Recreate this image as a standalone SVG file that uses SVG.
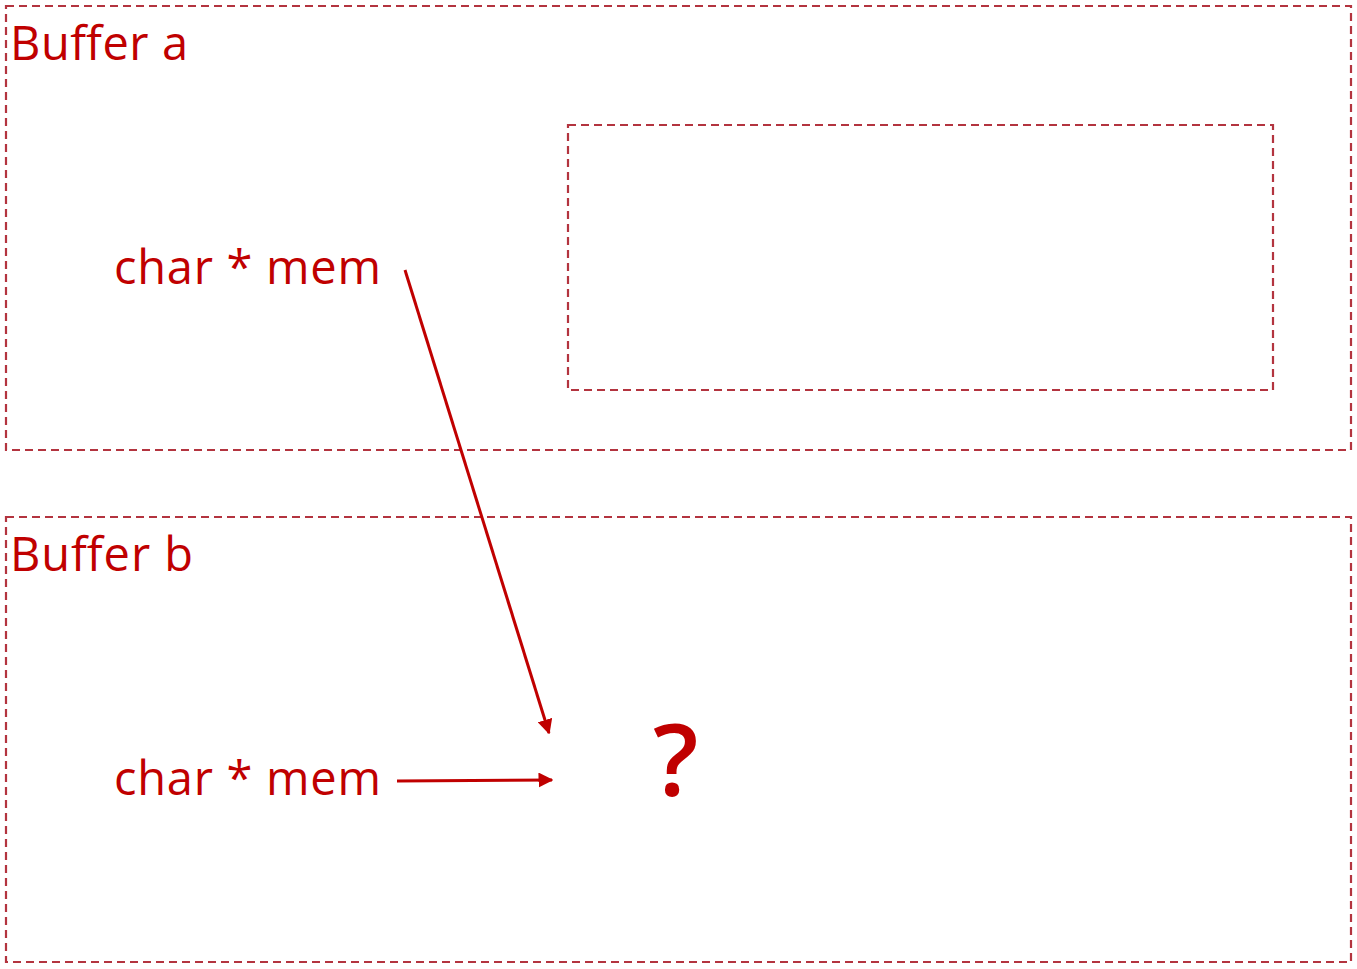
<svg xmlns="http://www.w3.org/2000/svg" width="1357" height="969" viewBox="0 0 1357 969">
<style>
.box{fill:none;stroke:#B3343F;stroke-width:2.2;stroke-dasharray:8 5}
.lbl{font-family:"Open Sans","Liberation Sans",sans-serif;fill:#C00000;font-size:47px}
.code{font-family:"Open Sans","Liberation Sans",sans-serif;fill:#C00000;font-size:47px}
.conn{stroke:#C00000;stroke-width:3;fill:none}
</style>
<defs>
<marker id="ah" viewBox="0 0 10 10" refX="9" refY="5" markerWidth="5" markerHeight="5" orient="auto" markerUnits="strokeWidth">
<path d="M0,0 L10,5 L0,10 z" fill="#C00000"/>
</marker>
</defs>
<rect width="1357" height="969" fill="#fff"/>
<g id="bufferA">
<rect class="box" x="6" y="6" width="1345" height="444"/>
<text class="lbl" x="10" y="60" textLength="178" lengthAdjust="spacing">Buffer a</text>
</g>
<g id="memA">
<text class="code" x="114" y="284" textLength="267" lengthAdjust="spacing">char * mem</text>
</g>
<g id="innerBox">
<rect class="box" x="568" y="125" width="705" height="265"/>
</g>
<g id="bufferB">
<rect class="box" x="6" y="517" width="1345" height="445"/>
<text class="lbl" x="10" y="571" textLength="183" lengthAdjust="spacing">Buffer b</text>
</g>
<g id="memB">
<text class="code" x="114" y="795" textLength="267" lengthAdjust="spacing">char * mem</text>
</g>
<g id="question">
<text x="653" y="796" style="font-family:'Open Sans','Liberation Sans',sans-serif;fill:#C00000;font-size:100px;font-weight:600">?</text>
</g>
<g id="connectors">
<line class="conn" x1="405" y1="270" x2="549" y2="733" marker-end="url(#ah)"/>
<line class="conn" x1="397" y1="781" x2="552" y2="780" marker-end="url(#ah)"/>
</g>
</svg>
